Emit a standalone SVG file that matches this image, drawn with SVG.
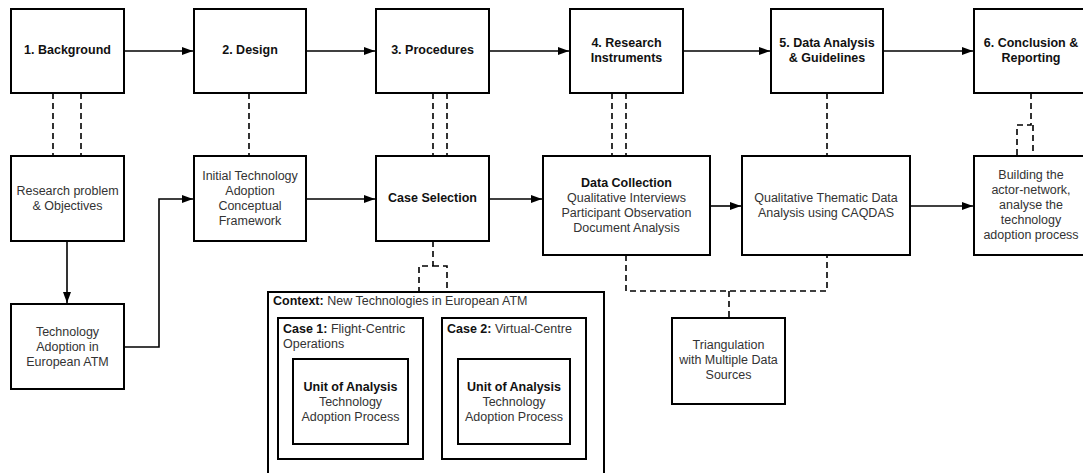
<svg xmlns="http://www.w3.org/2000/svg" width="1083" height="473" viewBox="0 0 1083 473">
<style>
.box{fill:#fff;stroke:#000;stroke-width:2}
.t{font-family:"Liberation Sans",Arial,sans-serif;font-size:12.5px;fill:#333;text-anchor:middle}
.l{text-anchor:start}
.b{font-weight:bold;fill:#111}
.c{fill:none;stroke:#000;stroke-width:1.6}
.d{fill:none;stroke:#000;stroke-width:1.6;stroke-dasharray:6 4}
</style>
<defs>
<marker id="ah" markerWidth="12" markerHeight="10" refX="11" refY="5" orient="auto" markerUnits="userSpaceOnUse">
<path d="M0,1 L11,5 L0,9 Z" fill="#000"/>
</marker>
</defs>
<rect width="1083" height="473" fill="#fff"/>
<g id="connectors">
<path class="c" d="M124,51 H193" marker-end="url(#ah)"/>
<path class="c" d="M306,51 H375" marker-end="url(#ah)"/>
<path class="c" d="M489,51 H569" marker-end="url(#ah)"/>
<path class="c" d="M683,51 H770" marker-end="url(#ah)"/>
<path class="c" d="M883,51 H973" marker-end="url(#ah)"/>
<path class="c" d="M67,241 V303" marker-end="url(#ah)"/>
<path class="c" d="M124,347 H159 V199 H193" marker-end="url(#ah)"/>
<path class="c" d="M306,199 H375" marker-end="url(#ah)"/>
<path class="c" d="M489,199 H542" marker-end="url(#ah)"/>
<path class="c" d="M710,206 H741" marker-end="url(#ah)"/>
<path class="c" d="M910,206 H973" marker-end="url(#ah)"/>
<path class="d" d="M53,93 V156 M81,93 V156"/>
<path class="d" d="M249,93 V156"/>
<path class="d" d="M433,93 V156 M447,93 V156"/>
<path class="d" d="M612,93 V156 M626,93 V156"/>
<path class="d" d="M827,93 V156"/>
<path class="d" d="M1031,93 V125 H1017 V156 M1033,125 V156"/>
<path class="d" d="M433,241 V266 H419 V292 M433,266 H447 V292"/>
<path class="d" d="M626,255 V291 H827 V255 M729,291 V318"/>
</g>
<g id="n1"><rect class="box" x="11" y="9" width="113" height="84"/><text class="t b" x="67.5" y="53.5">1. Background</text></g>
<g id="n2"><rect class="box" x="194" y="9" width="112" height="84"/><text class="t b" x="250" y="53.5">2. Design</text></g>
<g id="n3"><rect class="box" x="376" y="9" width="113" height="84"/><text class="t b" x="432.5" y="53.5">3. Procedures</text></g>
<g id="n4"><rect class="box" x="570" y="9" width="113" height="84"/><text class="t b" x="626.5" y="46.5">4. Research</text><text class="t b" x="626.5" y="61.5">Instruments</text></g>
<g id="n5"><rect class="box" x="771" y="9" width="112" height="84"/><text class="t b" x="827" y="46.5">5. Data Analysis</text><text class="t b" x="827" y="61.5">&amp; Guidelines</text></g>
<g id="n6"><rect class="box" x="974" y="9" width="114" height="84"/><text class="t b" x="1031" y="46.5">6. Conclusion &amp;</text><text class="t b" x="1031" y="61.5">Reporting</text></g>
<g id="r1"><rect class="box" x="11" y="156" width="113" height="85"/><text class="t" x="67.5" y="194.5">Research problem</text><text class="t" x="67.5" y="209.5">&amp; Objectives</text></g>
<g id="r2"><rect class="box" x="194" y="156" width="112" height="85"/><text class="t" x="250" y="179.5">Initial Technology</text><text class="t" x="250" y="194.5">Adoption</text><text class="t" x="250" y="209.5">Conceptual</text><text class="t" x="250" y="224.5">Framework</text></g>
<g id="r3"><rect class="box" x="376" y="156" width="113" height="85"/><text class="t b" x="432.5" y="201.5">Case Selection</text></g>
<g id="r4"><rect class="box" x="543" y="156" width="167" height="99"/><text class="t b" x="626.5" y="186.5">Data Collection</text><text class="t" x="626.5" y="201.5">Qualitative Interviews</text><text class="t" x="626.5" y="216.5">Participant Observation</text><text class="t" x="626.5" y="231.5">Document Analysis</text></g>
<g id="r5"><rect class="box" x="742" y="156" width="168" height="99"/><text class="t" x="826" y="201.5">Qualitative Thematic Data</text><text class="t" x="826" y="216.5">Analysis using CAQDAS</text></g>
<g id="r6"><rect class="box" x="974" y="156" width="114" height="99"/><text class="t" x="1031" y="178.5">Building the</text><text class="t" x="1031" y="193.5">actor-network,</text><text class="t" x="1031" y="208.5">analyse the</text><text class="t" x="1031" y="223.5">technology</text><text class="t" x="1031" y="238.5">adoption process</text></g>
<g id="r7"><rect class="box" x="11" y="304" width="113" height="85"/><text class="t" x="67.5" y="335.5">Technology</text><text class="t" x="67.5" y="350.5">Adoption in</text><text class="t" x="67.5" y="365.5">European ATM</text></g>
<g id="tri"><rect class="box" x="672" y="318" width="113" height="86"/><text class="t" x="728.5" y="348.5">Triangulation</text><text class="t" x="728.5" y="363.5">with Multiple Data</text><text class="t" x="728.5" y="378.5">Sources</text></g>
<g id="context"><rect class="box" x="268" y="292" width="336" height="184"/><text class="t l" x="273" y="304.5"><tspan class="b">Context:</tspan> New Technologies in European ATM</text></g>
<g id="case1"><rect class="box" x="278" y="318" width="145" height="141"/><text class="t l" x="283" y="332.5"><tspan class="b">Case 1:</tspan> Flight-Centric</text><text class="t l" x="283" y="347.5">Operations</text></g>
<g id="unit1"><rect class="box" x="293" y="359" width="115" height="85"/><text class="t b" x="350.5" y="390.5">Unit of Analysis</text><text class="t" x="350.5" y="405.5">Technology</text><text class="t" x="350.5" y="420.5">Adoption Process</text></g>
<g id="case2"><rect class="box" x="442" y="318" width="144" height="141"/><text class="t l" x="447" y="332.5"><tspan class="b">Case 2:</tspan> Virtual-Centre</text></g>
<g id="unit2"><rect class="box" x="458" y="359" width="112" height="85"/><text class="t b" x="514" y="390.5">Unit of Analysis</text><text class="t" x="514" y="405.5">Technology</text><text class="t" x="514" y="420.5">Adoption Process</text></g>
</svg>
